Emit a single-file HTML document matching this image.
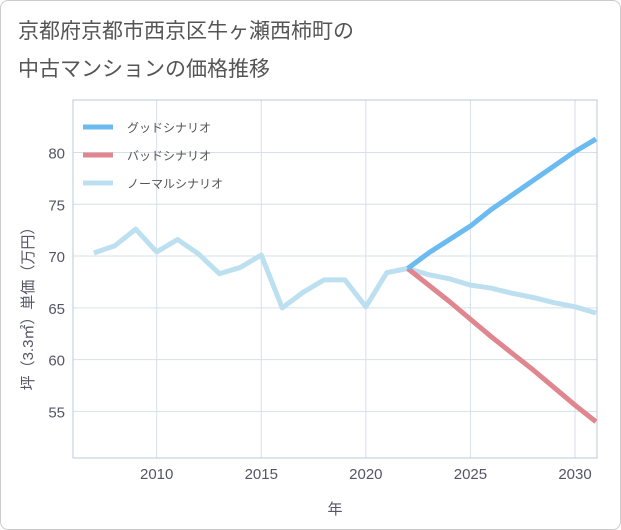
<!DOCTYPE html>
<html><head><meta charset="utf-8"><style>
body{margin:0;background:#fff;font-family:"Liberation Sans","Noto Sans CJK JP",sans-serif}
#wrap{position:relative;width:619px;height:528px;border:1px solid #ccc;border-radius:8px;overflow:hidden}
.t{position:absolute;left:17px;font-size:21px;color:#555}
</style></head><body>
<div id="wrap">
<div class="t" style="top:14px">京都府京都市西京区牛ヶ瀬西柿町の</div>
<div class="t" style="top:52px">中古マンションの価格推移</div>
<svg id="c" width="621" height="530" style="position:absolute;left:-1px;top:-1px"></svg>
</div>
<script>
const years=[2007,2008,2009,2010,2011,2012,2013,2014,2015,2016,2017,2018,2019,2020,2021,2022,2023,2024,2025,2026,2027,2028,2029,2030,2031];
const normal=[70.3,71.0,72.6,70.4,71.6,70.2,68.3,68.9,70.1,65.0,66.5,67.7,67.7,65.1,68.4,68.8,68.2,67.8,67.2,66.9,66.4,66.0,65.5,65.1,64.5];
const futureYears=[2022,2023,2024,2025,2026,2027,2028,2029,2030,2031];
const good=[68.8,70.3,71.6,72.9,74.5,75.9,77.3,78.7,80.1,81.3];
const bad=[68.8,67.2,65.6,63.9,62.2,60.6,59.0,57.3,55.6,54.0];
const xTicks=[2010,2015,2020,2025,2030];
const yTicks=[55,60,65,70,75,80];
const L=73,R=597,T=100,B=458,x0=2006,x1=2031.05,y0=50.5,y1=85.07;
const X=v=>L+(v-x0)/(x1-x0)*(R-L), Y=v=>B-(v-y0)/(y1-y0)*(B-T);
const s=document.getElementById('c');const NS='http://www.w3.org/2000/svg';
function mk(t,a,p){const e=document.createElementNS(NS,t);for(const k in a)e.setAttribute(k,a[k]);(p||s).appendChild(e);return e;}
let e;
xTicks.forEach(v=>{e=mk('line',{x1:X(v),x2:X(v),y1:T,y2:B,stroke:'#d5e0ea','stroke-width':1});
e=mk('text',{x:X(v),y:B+21,'text-anchor':'middle','font-size':15,fill:'#556'});e.textContent=v;});
yTicks.forEach(v=>{e=mk('line',{x1:L,x2:R,y1:Y(v),y2:Y(v),stroke:'#d5e0ea','stroke-width':1});
e=mk('text',{x:L-8,y:Y(v)+6,'text-anchor':'end','font-size':15,fill:'#556'});e.textContent=v;});
e=mk('rect',{x:L,y:T,width:R-L,height:B-T,fill:'none',stroke:'#b8c8d8'});
function line(xs,ys,c,n){e=mk('polyline',{points:xs.map((v,i)=>X(v)+','+Y(ys[i])).join(' '),fill:'none',stroke:c,'stroke-width':5,'stroke-linejoin':'round'});}
line(years,normal,'#bde0f0','normal-scenario-line');
line(futureYears,bad,'#e0868f','bad-scenario-line');
line(futureYears,good,'#6cbbf0','good-scenario-line');
e=mk('text',{x:335,y:514,'text-anchor':'middle','font-size':15,fill:'#556'});e.textContent='年';
e=mk('text',{transform:'translate(33,305) rotate(-90)','text-anchor':'middle','font-size':15,fill:'#556'});e.textContent='坪（3.3㎡）単価（万円）';
[['グッドシナリオ','#6cbbf0'],['バッドシナリオ','#e0868f'],['ノーマルシナリオ','#bde0f0']].forEach((d,i)=>{const y=127+i*28;
e=mk('line',{x1:83,x2:113,y1:y,y2:y,stroke:d[1],'stroke-width':5});
e=mk('text',{x:127,y:y+5,'font-size':12,fill:'#555'});e.textContent=d[0];});
</script></body></html>
